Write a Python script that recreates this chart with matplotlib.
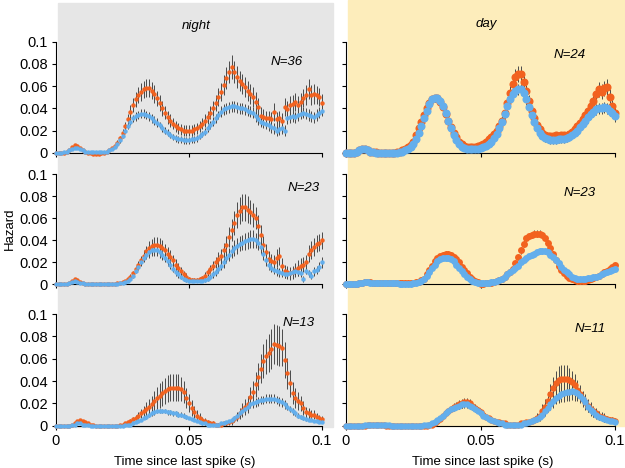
import numpy as np
from matplotlib import pyplot as plt
from matplotlib.patches import Rectangle

plt.rcParams['font.family'] = ['Liberation Sans', 'DejaVu Sans']

W, H = 625, 468
ORANGE = '#F2621F'
BLUE = '#63AEEC'
BAR = '#4A4A4A'

# time since last spike, 1 ms bins
t = np.linspace(0, 0.1, 101)

# hazard values in units of 1e-3
night36_o = [0,0,0,0,1,2,5,7,6,4,
             2,1,0,0,-1,-1,-1,0,0,1,
             2,4,6,9,13,18,24,30,37,43,
             48,52,55,57,58,58,56,53,49,45,
             40,36,32,29,26,24,22,21,20,20,
             20,20,21,22,24,26,29,32,36,40,
             45,50,55,61,67,73,77,73,68,65,
             62,59,56,53,50,46,41,33,32,31,
             31,30,37,30,31,29,41,39,43,44,
             46,43,46,49,52,57,52,53,52,50,
             45]
night36_b = [0,0,0,1,1,2,3,4,4,3,
             2,1,1,1,1,1,1,1,1,1,
             2,3,5,8,11,15,20,24,28,31,
             33,34,35,35,34,33,31,29,27,25,
             22,20,18,16,14,13,12,12,11,11,
             11,12,12,13,15,17,19,22,25,28,
             31,34,37,39,40,41,42,42,41,40,
             40,39,38,37,36,33,30,28,27,26,
             25,23,22,20,21,22,20,31,32,33,
             32,34,35,36,35,34,33,32,34,36,
             38]
night36_oe = [0,0,0,0,0,1,1,1,1,1,
              0,0,0,0,0,0,0,0,0,0,
              1,1,1,2,2,3,4,5,6,6,
              7,7,8,8,8,8,8,8,7,7,
              7,6,6,6,5,5,5,5,5,5,
              5,5,5,5,5,5,6,6,6,7,
              7,8,8,9,10,10,11,10,10,9,
              9,9,9,9,9,9,8,8,7,7,
              7,7,8,7,7,7,8,8,8,8,
              8,8,8,8,9,9,9,9,8,8,
              8]
night36_be = [0,0,0,0,0,0,1,1,1,0,
              0,0,0,0,0,0,0,0,0,0,
              0,1,1,1,2,2,2,3,3,3,
              4,4,4,4,4,4,4,4,4,3,
              3,3,3,3,3,3,3,3,3,3,
              3,3,3,3,3,3,3,3,4,4,
              4,4,5,5,5,5,5,5,5,5,
              5,5,5,5,5,5,5,5,5,5,
              5,5,5,5,5,5,5,5,5,5,
              5,5,5,5,5,5,5,5,5,5,
              5]

day24_o = [0,0,0,0,1,2,3,3,2,1,
           1,1,0,0,0,0,0,0,0,1,
           1,2,3,5,7,10,16,22,28,34,
           40,45,48,49,49,46,41,35,29,23,
           18,14,10,8,6,5,5,5,5,6,
           7,8,10,12,14,17,20,24,29,36,
           45,54,62,68,71,71,64,56,47,38,
           31,25,21,18,16,15,15,15,16,15,
           16,16,15,17,19,21,24,27,30,34,
           38,42,47,53,57,55,58,59,50,42,
           36]
day24_b = [0,0,0,0,1,2,3,3,2,1,
           1,0,0,0,0,0,0,0,0,0,
           1,1,2,3,5,8,12,18,24,31,
           38,44,48,49,49,47,42,36,29,22,
           16,11,8,5,4,3,3,3,3,3,
           4,5,6,8,10,13,17,22,28,35,
           42,48,53,56,57,57,54,48,41,34,
           28,22,18,15,13,12,11,11,11,12,
           12,12,13,14,16,18,20,23,26,29,
           32,35,37,39,40,40,41,40,38,36,
           33]
day24_oe = [0,0,0,0,0,0,0,0,0,0,
            0,0,0,0,0,0,0,0,0,0,
            0,0,1,1,1,1,2,2,2,2,
            3,3,3,3,3,3,3,2,2,2,
            2,1,1,1,1,1,1,1,1,1,
            2,2,2,2,3,3,3,4,4,5,
            5,6,6,7,7,7,6,5,5,4,
            4,3,3,3,3,3,3,3,3,3,
            3,3,3,3,3,4,4,4,5,5,
            5,6,6,6,7,7,7,7,7,6,
            6]
day24_be = [0,0,0,0,0,0,0,0,0,0,
            0,0,0,0,0,0,0,0,0,0,
            0,0,0,1,1,1,1,2,2,2,
            2,3,3,3,3,3,3,2,2,2,
            2,1,1,1,1,1,1,1,1,1,
            1,2,2,2,2,3,3,3,4,4,
            4,5,5,5,5,5,5,5,4,4,
            4,3,3,3,3,3,3,3,3,3,
            3,3,3,3,3,3,4,4,4,4,
            5,5,5,5,5,5,5,5,5,5,
            5]

night23_o = [0,0,0,0,0,1,3,5,4,2,
             1,0,0,0,0,0,0,0,0,0,
             0,0,0,1,1,2,3,5,7,10,
             14,18,22,26,30,33,35,36,36,35,
             33,31,28,25,22,18,15,12,9,7,
             5,4,4,4,5,6,8,11,14,17,
             20,23,26,31,36,43,49,56,63,67,
             70,70,68,66,63,60,53,45,36,29,
             23,21,20,24,26,17,12,11,10,11,
             13,15,17,18,20,28,31,34,37,38,
             40]
night23_b = [0,0,0,0,0,1,2,3,2,1,
             1,0,0,0,0,0,0,0,0,0,
             0,0,0,0,1,1,2,3,5,8,
             12,16,20,24,27,29,31,31,31,29,
             27,24,21,18,14,11,9,7,5,4,
             3,3,3,3,3,3,4,5,7,9,
             11,14,17,20,24,27,30,33,35,37,
             38,39,40,41,41,40,38,34,28,22,
             18,15,13,12,11,10,9,9,10,11,
             12,11,10,5,12,10,8,12,13,16,
             20]
night23_oe = [0,0,0,0,0,0,1,1,1,0,
              0,0,0,0,0,0,0,0,0,0,
              0,0,0,0,0,1,1,1,2,2,
              3,3,4,5,5,6,6,7,7,7,
              7,6,6,6,5,5,4,4,3,3,
              2,2,2,2,2,2,3,3,4,4,
              5,6,6,7,8,9,10,11,12,12,
              12,12,12,11,11,10,10,9,8,8,
              7,7,7,8,8,7,6,6,6,6,
              6,7,7,7,7,8,8,8,8,8,
              8]
night23_be = [0,0,0,0,0,0,0,1,0,0,
              0,0,0,0,0,0,0,0,0,0,
              0,0,0,0,0,0,1,1,1,2,
              2,3,3,4,4,5,5,5,5,5,
              5,4,4,4,3,3,3,2,2,2,
              1,1,1,1,1,1,2,2,2,3,
              3,4,4,5,5,6,6,7,7,7,
              7,8,8,8,8,7,7,6,6,5,
              5,4,4,4,4,3,3,3,3,3,
              3,3,3,3,3,3,3,4,4,4,
              5]

day23_o = [0,0,0,0,0,1,1,2,2,2,
           1,1,1,1,1,1,1,1,1,1,
           1,1,1,1,1,1,2,2,4,5,
           9,13,17,21,24,26,27,28,28,27,
           25,23,20,16,13,10,7,5,3,2,
           0,0,1,1,1,2,3,4,5,7,
           9,11,14,19,25,31,37,42,44,45,
           46,46,46,45,42,38,33,28,22,17,
           13,10,8,6,5,4,3,3,3,3,
           4,5,6,7,8,9,11,12,14,16,
           18]
day23_b = [0,0,0,0,0,1,1,2,2,1,
           1,1,1,1,1,1,1,1,1,1,
           0,0,0,0,0,1,1,2,3,5,
           8,11,15,18,21,23,24,24,24,23,
           21,18,15,12,9,7,5,3,2,1,
           1,1,1,1,2,2,3,4,5,7,
           9,11,13,15,17,20,22,24,26,27,
           28,29,30,30,30,29,27,25,22,19,
           16,13,11,9,7,6,5,5,5,5,
           6,6,7,7,8,9,10,11,12,13,
           14]
day23_oe = [0,0,0,0,0,0,0,0,0,0,
            0,0,0,0,0,0,0,0,0,0,
            0,0,0,0,0,0,0,0,1,1,
            1,1,1,2,2,2,2,2,2,2,
            2,1,1,1,1,1,1,0,0,0,
            0,0,0,0,0,0,1,1,1,1,
            1,1,2,2,2,3,3,3,3,3,
            3,3,3,3,2,2,2,2,2,1,
            1,1,1,1,1,1,1,1,1,1,
            1,1,1,1,1,1,1,1,1,1,
            1]
day23_be = [0,0,0,0,0,0,0,0,0,0,
            0,0,0,0,0,0,0,0,0,0,
            0,0,0,0,0,0,0,0,0,1,
            1,1,1,1,1,1,2,2,2,1,
            1,1,1,1,1,1,0,0,0,0,
            0,0,0,0,0,0,0,1,1,1,
            1,1,1,1,2,2,2,2,2,2,
            2,2,2,2,2,2,2,1,1,1,
            1,1,1,1,1,1,1,1,1,1,
            1,1,1,1,1,1,1,1,1,1,
            1]

night13_o = [0,0,0,0,0,0,1,2,4,5,
             4,3,2,1,1,0,0,0,0,0,
             0,0,0,0,1,1,2,3,4,6,
             7,9,11,13,15,17,19,22,25,27,
             29,31,33,34,34,34,34,33,30,25,
             20,16,12,9,7,5,4,3,2,2,
             1,1,1,2,2,3,4,6,8,11,
             14,17,19,26,30,37,44,51,58,62,
             65,69,73,72,71,70,59,47,38,29,
             25,22,20,16,12,11,10,10,8,7,
             6]
night13_b = [0,0,0,0,0,0,1,1,2,2,
             1,1,1,0,0,0,0,0,0,0,
             0,0,0,0,0,0,1,1,1,2,
             3,4,5,7,8,10,11,12,13,13,
             13,13,12,12,11,11,10,10,9,8,
             7,6,5,4,3,2,2,1,1,1,
             1,1,2,2,3,4,5,7,9,11,
             13,15,17,19,20,21,22,23,23,24,
             24,24,24,23,22,21,19,17,15,13,
             11,9,8,7,6,5,5,4,4,3,
             3]
night13_oe = [0,0,0,0,0,0,0,1,1,1,
              1,1,0,0,0,0,0,0,0,0,
              0,0,0,0,0,1,1,1,2,2,
              3,3,4,5,6,7,8,9,10,11,
              11,12,12,12,12,12,12,11,10,9,
              8,7,6,5,4,3,3,2,2,2,
              1,1,1,1,2,2,3,3,4,5,
              6,7,8,9,10,11,12,13,15,16,
              17,18,18,18,18,17,16,14,12,10,
              9,8,7,6,5,5,4,4,3,3,
              3]
night13_be = [0,0,0,0,0,0,0,0,0,0,
              0,0,0,0,0,0,0,0,0,0,
              0,0,0,0,0,0,0,0,0,1,
              1,1,1,1,2,2,2,2,2,2,
              2,2,2,2,2,2,2,2,2,2,
              1,1,1,1,1,1,1,0,0,0,
              0,0,0,0,1,1,1,1,2,2,
              2,3,3,3,4,4,4,4,4,4,
              4,4,4,4,4,4,4,3,3,3,
              2,2,2,2,2,1,1,1,1,1,
              1]

day11_o = [0,0,0,0,0,0,0,0,1,1,
           1,1,1,1,1,0,0,0,0,0,
           0,0,0,0,0,0,0,0,0,0,
           0,1,1,2,4,6,9,11,13,15,
           17,18,19,20,21,21,20,18,16,14,
           12,10,8,7,5,4,3,3,2,2,
           1,1,1,1,1,2,2,3,3,4,
           5,7,9,13,17,22,28,34,38,41,
           42,42,42,41,39,36,32,28,24,21,
           18,15,13,11,9,8,7,6,5,5,
           4]
day11_b = [0,0,0,0,0,0,0,1,1,1,
           1,1,1,1,1,1,1,0,0,0,
           0,0,0,0,0,0,0,0,0,1,
           1,1,2,3,5,7,9,11,13,15,
           16,17,18,19,19,19,18,17,15,13,
           11,9,8,6,5,4,3,2,2,1,
           1,1,1,1,1,1,2,2,3,4,
           5,6,8,10,13,16,19,22,25,27,
           28,29,30,30,31,30,29,27,24,21,
           17,14,12,10,8,7,6,5,4,4,
           3]
day11_oe = [0,0,0,0,0,0,0,0,0,0,
            0,0,0,0,0,0,0,0,0,0,
            0,0,0,0,0,0,0,0,0,0,
            0,0,1,1,1,2,2,2,3,3,
            3,3,4,4,4,4,4,3,3,3,
            3,2,2,2,2,1,1,1,1,1,
            1,1,1,1,1,1,1,1,2,2,
            3,4,5,6,7,8,9,10,11,12,
            12,12,12,11,10,10,9,8,7,7,
            6,6,5,5,4,4,4,3,3,3,
            3]
day11_be = [0,0,0,0,0,0,0,0,0,0,
            0,0,0,0,0,0,0,0,0,0,
            0,0,0,0,0,0,0,0,0,0,
            0,0,1,1,1,1,2,2,2,2,
            3,3,3,3,3,3,3,3,3,2,
            2,2,2,1,1,1,1,1,1,1,
            0,0,0,0,0,1,1,1,1,1,
            2,2,3,3,4,4,5,6,6,7,
            7,8,8,8,8,8,7,6,6,5,
            5,4,4,3,3,3,3,2,2,2,
            2]

# (row, col, orange, orange err, blue, blue err, N label, marker size)
panels = [
    (0, 0, night36_o, night36_oe, night36_b, night36_be, 'N=36', 3.2),
    (0, 1, day24_o, day24_oe, day24_b, day24_be, 'N=24', 5.8),
    (1, 0, night23_o, night23_oe, night23_b, night23_be, 'N=23', 3.2),
    (1, 1, day23_o, day23_oe, day23_b, day23_be, 'N=23', 5.0),
    (2, 0, night13_o, night13_oe, night13_b, night13_be, 'N=13', 3.2),
    (2, 1, day11_o, day11_oe, day11_b, day11_be, 'N=11', 4.6),
]

# axes boxes in pixels: left, right; rows: top, bottom
col_px = [(56, 322), (346, 615)]
row_px = [(41.7, 152.7), (174.3, 284.3), (314, 425.7)]
label_px = [(286.7, 62.3), (569.5, 55), (304, 188), (580, 193), (298.5, 323), (590.5, 329)]

fig = plt.figure(figsize=(W/100, H/100), dpi=100)

fig.patches.append(Rectangle((58/W, 1-427/H), 275/W, 424/H, transform=fig.transFigure,
                             color='#E6E6E6', zorder=-5))
fig.patches.append(Rectangle((348/W, 1-426/H), 277/W, 426/H, transform=fig.transFigure,
                             color='#FDEDBB', zorder=-5))

for k, (r, c, yo, eo, yb, eb, lab, ms) in enumerate(panels):
    x0, x1 = col_px[c]
    ytop, ybot = row_px[r]
    ax = fig.add_axes([x0/W, 1-ybot/H, (x1-x0)/W, (ybot-ytop)/H])
    ax.patch.set_visible(False)
    yo = np.array(yo)*1e-3
    yb = np.array(yb)*1e-3
    eo = np.array(eo)*1e-3
    eb = np.array(eb)*1e-3
    ax.errorbar(t, yo, yerr=eo, fmt='none', ecolor=BAR, elinewidth=0.7, zorder=2, clip_on=False)
    ax.errorbar(t, yb, yerr=eb, fmt='none', ecolor=BAR, elinewidth=0.7, zorder=2, clip_on=False)
    ax.plot(t, yo, 'o', color=ORANGE, ms=ms, mew=0, zorder=3, clip_on=False)
    ax.plot(t, yb, 'o', color=BLUE, ms=ms, mew=0, zorder=4, clip_on=False)
    ax.set_xlim(0, 0.1)
    ax.set_ylim(0, 0.1)
    ax.spines['top'].set_visible(False)
    ax.spines['right'].set_visible(False)
    ax.set_yticks([0, 0.02, 0.04, 0.06, 0.08, 0.1])
    ax.set_xticks([0, 0.05, 0.1])
    ax.tick_params(direction='out', length=3, width=0.8, labelsize=10.5, pad=3)
    if c == 0:
        ax.set_yticklabels(['0', '0.02', '0.04', '0.06', '0.08', '0.1'])
    else:
        ax.set_yticklabels([])
    if r == 2:
        ax.set_xticklabels(['0', '0.05', '0.1'])
    else:
        ax.set_xticklabels([])
    lx, ly = label_px[k]
    fig.text(lx/W, 1-ly/H, lab, style='italic', fontsize=9.5, ha='center', va='center')

fig.text(195.8/W, 1-26/H, 'night', style='italic', fontsize=9.5, ha='center', va='center')
fig.text(486/W, 1-24/H, 'day', style='italic', fontsize=9.5, ha='center', va='center')
fig.text(10/W, 1-229/H, 'Hazard', rotation=90, fontsize=9.5, ha='center', va='center')
fig.text(184.5/W, 1-461.7/H, 'Time since last spike (s)', fontsize=9.5, ha='center', va='center')
fig.text(482.5/W, 1-461.7/H, 'Time since last spike (s)', fontsize=9.5, ha='center', va='center')

plt.savefig('out.png', dpi=100)
